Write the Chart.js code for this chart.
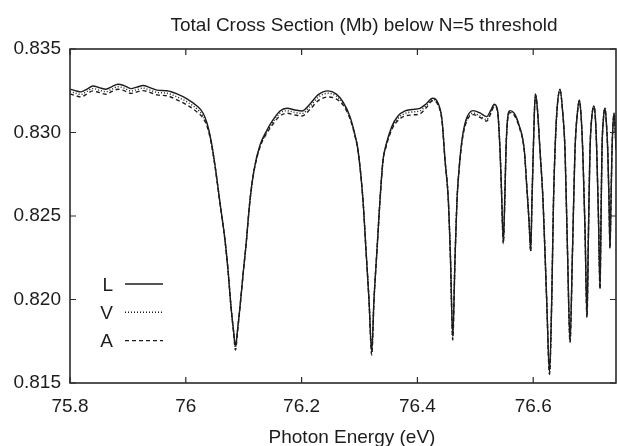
<!DOCTYPE html>
<html>
<head>
<meta charset="utf-8">
<title>Total Cross Section below N=5 threshold</title>
<script src="https://cdn.jsdelivr.net/npm/chart.js@4"></script>
<style>
  html, body { margin: 0; padding: 0; background: #fff; }
  canvas { display: block; }
</style>
</head>
<body>
<canvas id="crossChart" width="617" height="446"></canvas>
<script>
/* ======================
DATA
====================== */

const titleText = "Total Cross Section (Mb) below N=5 threshold";
const xAxisTitle = "Photon Energy (eV)";

const xTickValues = [75.8, 76.0, 76.2, 76.4, 76.6];
const xTickLabels = ["75.8", "76", "76.2", "76.4", "76.6"];
const yTickValues = [0.815, 0.820, 0.825, 0.830, 0.835];
const yTickLabels = ["0.815", "0.820", "0.825", "0.830", "0.835"];

const seriesNames = ["L", "V", "A"];

// photon energy (eV)
const energy = [
  75.8000, 75.8086, 75.8190, 75.8294, 75.8397, 75.8501, 75.8622, 75.8725, 75.8829, 75.8933,
  75.9054, 75.9157, 75.9261, 75.9382, 75.9503, 75.9675, 75.9848, 76.0021, 76.0193, 76.0297,
  76.0366, 76.0435, 76.0504, 76.0591, 76.0677, 76.0729, 76.0781, 76.0824, 76.0858, 76.0893,
  76.0936, 76.0988, 76.1048, 76.1074, 76.1109, 76.1178, 76.1282, 76.1402, 76.1506, 76.1627,
  76.1748, 76.1886, 76.2007, 76.2145, 76.2283, 76.2456, 76.2594, 76.2715, 76.2836, 76.2922,
  76.2974, 76.3060, 76.3112, 76.3164, 76.3211, 76.3250, 76.3302, 76.3354, 76.3406, 76.3458,
  76.3556, 76.3665, 76.3786, 76.3907, 76.4045, 76.4149, 76.4264, 76.4356, 76.4425, 76.4477,
  76.4534, 76.4572, 76.4610, 76.4649, 76.4684, 76.4718, 76.4770, 76.4839, 76.4965, 76.5081,
  76.5197, 76.5271, 76.5328, 76.5383, 76.5427, 76.5452, 76.5484, 76.5513, 76.5530, 76.5556,
  76.5599, 76.5668, 76.5755, 76.5846, 76.5893, 76.5927, 76.5957, 76.5979, 76.6002, 76.6022,
  76.6040, 76.6074, 76.6117, 76.6169, 76.6233, 76.6282, 76.6320, 76.6351, 76.6377, 76.6411,
  76.6463, 76.6506, 76.6549, 76.6592, 76.6636, 76.6679, 76.6722, 76.6765, 76.6796, 76.6826,
  76.6855, 76.6895, 76.6929, 76.6955, 76.6981, 76.7016, 76.7050, 76.7076, 76.7097, 76.7128,
  76.7154, 76.7171, 76.7188, 76.7214, 76.7240, 76.7266, 76.7287, 76.7309, 76.7326, 76.7344,
  76.7361, 76.7378, 76.7396, 76.7413, 76.7430
];

// length form (Mb)
const crossL = [
  0.83260, 0.83251, 0.83243, 0.83260, 0.83278, 0.83269, 0.83259, 0.83275, 0.83289, 0.83281,
  0.83263, 0.83272, 0.83281, 0.83269, 0.83254, 0.83250, 0.83231, 0.83201, 0.83159, 0.83117,
  0.83057, 0.82955, 0.82805, 0.82578, 0.82356, 0.82177, 0.81955, 0.81817, 0.81722, 0.81817,
  0.81955, 0.82147, 0.82356, 0.82464, 0.82596, 0.82775, 0.82925, 0.83015, 0.83075, 0.83129,
  0.83145, 0.83135, 0.83129, 0.83171, 0.83225, 0.83249, 0.83231, 0.83183, 0.83095, 0.82985,
  0.82895, 0.82596, 0.82296, 0.81997, 0.81692, 0.81997, 0.82296, 0.82596, 0.82835, 0.82925,
  0.83035, 0.83099, 0.83129, 0.83138, 0.83145, 0.83171, 0.83205, 0.83177, 0.83075, 0.82835,
  0.82596, 0.82237, 0.81781, 0.82237, 0.82596, 0.82775, 0.82955, 0.83075, 0.83131, 0.83117,
  0.83095, 0.83135, 0.83169, 0.83135, 0.82895, 0.82656, 0.82350, 0.82656, 0.82895, 0.83075,
  0.83131, 0.83117, 0.83045, 0.82895, 0.82656, 0.82476, 0.82302, 0.82596, 0.82895, 0.83135,
  0.83231, 0.83135, 0.82895, 0.82596, 0.81997, 0.81566, 0.81997, 0.82596, 0.82895, 0.83135,
  0.83259, 0.83135, 0.82895, 0.82296, 0.81757, 0.82296, 0.82895, 0.83123, 0.83195, 0.83105,
  0.82895, 0.82416, 0.81907, 0.82416, 0.82895, 0.83105, 0.83159, 0.83075, 0.82895, 0.82476,
  0.82075, 0.82476, 0.82895, 0.83087, 0.83147, 0.83045, 0.82895, 0.82596, 0.82320, 0.82596,
  0.82895, 0.83045, 0.83117, 0.83045, 0.82895
];

// velocity form (Mb)
const crossV = [
  0.83246, 0.83237, 0.83228, 0.83246, 0.83263, 0.83254, 0.83244, 0.83260, 0.83274, 0.83266,
  0.83249, 0.83257, 0.83266, 0.83254, 0.83240, 0.83235, 0.83213, 0.83183, 0.83141, 0.83099,
  0.83045, 0.82949, 0.82802, 0.82578, 0.82356, 0.82177, 0.81955, 0.81811, 0.81704, 0.81811,
  0.81955, 0.82147, 0.82356, 0.82464, 0.82596, 0.82772, 0.82919, 0.83003, 0.83063, 0.83117,
  0.83130, 0.83120, 0.83114, 0.83156, 0.83210, 0.83235, 0.83219, 0.83174, 0.83089, 0.82982,
  0.82895, 0.82596, 0.82296, 0.81997, 0.81680, 0.81997, 0.82296, 0.82596, 0.82832, 0.82919,
  0.83023, 0.83084, 0.83114, 0.83123, 0.83130, 0.83159, 0.83196, 0.83171, 0.83072, 0.82835,
  0.82596, 0.82237, 0.81769, 0.82237, 0.82596, 0.82772, 0.82949, 0.83063, 0.83116, 0.83099,
  0.83077, 0.83123, 0.83163, 0.83132, 0.82895, 0.82656, 0.82341, 0.82656, 0.82895, 0.83072,
  0.83125, 0.83111, 0.83039, 0.82892, 0.82656, 0.82476, 0.82293, 0.82596, 0.82895, 0.83135,
  0.83228, 0.83135, 0.82895, 0.82596, 0.81997, 0.81557, 0.81997, 0.82596, 0.82895, 0.83135,
  0.83256, 0.83135, 0.82895, 0.82296, 0.81748, 0.82296, 0.82895, 0.83123, 0.83192, 0.83105,
  0.82895, 0.82416, 0.81898, 0.82416, 0.82895, 0.83105, 0.83156, 0.83075, 0.82895, 0.82476,
  0.82066, 0.82476, 0.82895, 0.83087, 0.83144, 0.83045, 0.82895, 0.82596, 0.82311, 0.82596,
  0.82895, 0.83045, 0.83114, 0.83045, 0.82895
];

// acceleration form (Mb)
const crossA = [
  0.83231, 0.83222, 0.83213, 0.83231, 0.83249, 0.83240, 0.83229, 0.83246, 0.83259, 0.83251,
  0.83234, 0.83243, 0.83251, 0.83240, 0.83225, 0.83220, 0.83195, 0.83165, 0.83123, 0.83087,
  0.83039, 0.82943, 0.82799, 0.82575, 0.82353, 0.82177, 0.81955, 0.81805, 0.81698, 0.81805,
  0.81955, 0.82147, 0.82356, 0.82464, 0.82596, 0.82769, 0.82913, 0.82997, 0.83051, 0.83099,
  0.83115, 0.83105, 0.83099, 0.83138, 0.83189, 0.83213, 0.83201, 0.83165, 0.83083, 0.82979,
  0.82892, 0.82596, 0.82296, 0.81997, 0.81668, 0.81997, 0.82296, 0.82596, 0.82829, 0.82913,
  0.83017, 0.83072, 0.83099, 0.83105, 0.83112, 0.83147, 0.83190, 0.83165, 0.83069, 0.82835,
  0.82596, 0.82237, 0.81757, 0.82237, 0.82596, 0.82769, 0.82943, 0.83057, 0.83107, 0.83090,
  0.83068, 0.83117, 0.83157, 0.83129, 0.82895, 0.82656, 0.82335, 0.82656, 0.82895, 0.83069,
  0.83119, 0.83105, 0.83036, 0.82889, 0.82656, 0.82476, 0.82287, 0.82596, 0.82895, 0.83135,
  0.83225, 0.83135, 0.82895, 0.82596, 0.81997, 0.81551, 0.81997, 0.82596, 0.82895, 0.83135,
  0.83253, 0.83135, 0.82895, 0.82296, 0.81742, 0.82296, 0.82895, 0.83123, 0.83189, 0.83105,
  0.82895, 0.82416, 0.81892, 0.82416, 0.82895, 0.83105, 0.83153, 0.83075, 0.82895, 0.82476,
  0.82060, 0.82476, 0.82895, 0.83087, 0.83141, 0.83045, 0.82895, 0.82596, 0.82305, 0.82596,
  0.82895, 0.83045, 0.83111, 0.83045, 0.82895
];

/* ======================
STYLE
====================== */

const FONT = '"Liberation Sans", Arial, Helvetica, sans-serif';
const INK = "#1c1c1c";

function toPoints(ys) {
  return energy.map((e, i) => ({ x: e, y: ys[i] }));
}

/* ======================
FRAME, TITLE, LEGEND
====================== */

const framePlugin = {
  id: "frame",
  afterDatasetsDraw(chart) {
    const { ctx, chartArea: a, scales } = chart;
    const x = scales.x;
    const y = scales.y;

    ctx.save();
    ctx.strokeStyle = "#2a2a2a";
    ctx.lineWidth = 1.6;
    ctx.strokeRect(a.left, a.top, a.right - a.left, a.bottom - a.top);

    // inward ticks on all four sides
    ctx.lineWidth = 1.2;
    ctx.beginPath();
    x.ticks.forEach(t => {
      const px = x.getPixelForValue(t.value);
      ctx.moveTo(px, a.bottom); ctx.lineTo(px, a.bottom - 6);
      ctx.moveTo(px, a.top); ctx.lineTo(px, a.top + 6);
    });
    y.ticks.forEach(t => {
      const py = y.getPixelForValue(t.value);
      ctx.moveTo(a.left, py); ctx.lineTo(a.left + 6, py);
      ctx.moveTo(a.right, py); ctx.lineTo(a.right - 6, py);
    });
    ctx.stroke();

    // title and x axis label
    ctx.fillStyle = INK;
    ctx.font = "19px " + FONT;
    ctx.textAlign = "center";
    ctx.textBaseline = "alphabetic";
    ctx.fillText(titleText, a.left + 294, 31);
    ctx.fillText(xAxisTitle, a.left + 282, 443);

    // legend inside lower left
    chart.data.datasets.forEach((ds, i) => {
      const ly = a.bottom - 99 + i * 28.3;
      ctx.textAlign = "right";
      ctx.fillText(ds.label, a.left + 43, ly + 6.5);
      ctx.strokeStyle = ds.borderColor;
      ctx.lineWidth = ds.borderWidth;
      ctx.setLineDash(ds.borderDash || []);
      ctx.beginPath();
      ctx.moveTo(a.left + 55, ly);
      ctx.lineTo(a.left + 93, ly);
      ctx.stroke();
    });
    ctx.restore();
  }
};

/* ======================
CREATE CHART
====================== */

const lineStyles = [[], [1, 2], [4, 3]];
const series = [crossL, crossV, crossA];

new Chart(document.getElementById("crossChart"), {
  type: "line",
  data: {
    datasets: series.map((ys, i) => ({
      label: seriesNames[i],
      data: toPoints(ys),
      borderColor: INK,
      borderWidth: 1.4,
      borderDash: lineStyles[i],
      pointRadius: 0,
      fill: false,
      cubicInterpolationMode: "monotone",
    })),
  },
  options: {
    responsive: false,
    animation: false,
    events: [],
    layout: { padding: { top: 49, right: 1, left: 0, bottom: 0 } },
    plugins: {
      legend: { display: false },
      title: { display: false },
      tooltip: { enabled: false },
    },
    scales: {
      x: {
        type: "linear",
        min: 75.8,
        max: 76.743,
        grid: { display: false, drawTicks: false },
        border: { display: false },
        afterBuildTicks: s => { s.ticks = xTickValues.map(v => ({ value: v })); },
        afterFit: s => { s.height = 63; },
        ticks: {
          padding: 12,
          maxRotation: 0,
          color: INK,
          font: { family: FONT, size: 19 },
          callback: (v, i) => xTickLabels[i],
        },
      },
      y: {
        type: "linear",
        min: 0.815,
        max: 0.835,
        grid: { display: false, drawTicks: false },
        border: { display: false },
        afterBuildTicks: s => { s.ticks = yTickValues.map(v => ({ value: v })); },
        afterFit: s => { s.width = 70; },
        ticks: {
          padding: 9,
          color: INK,
          font: { family: FONT, size: 19 },
          callback: (v, i) => yTickLabels[i],
        },
      },
    },
  },
  plugins: [framePlugin],
});
</script>
</body>
</html>
